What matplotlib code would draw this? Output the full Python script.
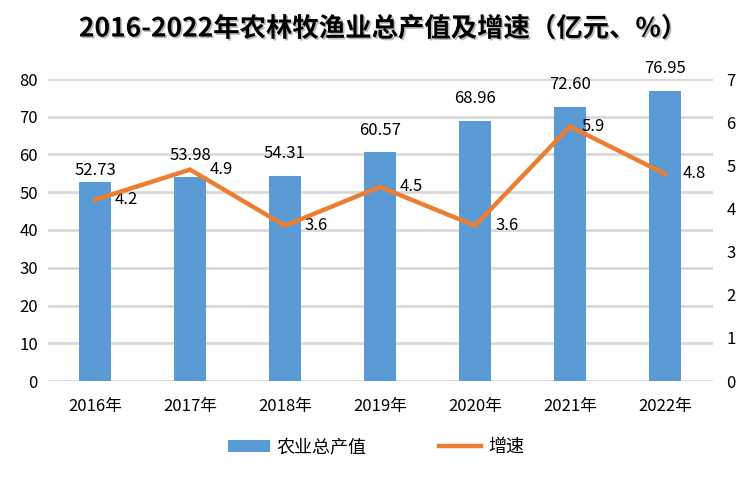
import matplotlib
matplotlib.use("Agg")
import matplotlib.pyplot as plt
import matplotlib.patheffects as pe
import numpy as np

plt.rcParams['font.family'] = ['Noto Sans CJK SC', 'DejaVu Sans']

years = ['2016年', '2017年', '2018年', '2019年', '2020年', '2021年', '2022年']
output_value = [52.73, 53.98, 54.31, 60.57, 68.96, 72.60, 76.95]
growth = [4.2, 4.9, 3.6, 4.5, 3.6, 5.9, 4.8]
left_ticks = [0, 10, 20, 30, 40, 50, 60, 70, 80]
right_ticks = [0, 1, 2, 3, 4, 5, 6, 7]

# label placement (styling, in points)
bar_label_dy = [8, 16, 16, 16, 16, 16, 16]
line_label_dx = [14, 14, 14, 14, 15, 8.5, 13]

bar_color = '#5B9BD5'
line_color = '#ED7D31'

fig = plt.figure(figsize=(7.51, 4.79), dpi=100)
ax = fig.add_axes([47.5/751, 1-381/479, 665/751, 302/479])
x = np.arange(len(years))

ax.bar(x, output_value, width=0.33, color=bar_color, zorder=3, label='农业总产值')
ax.set_ylim(0, 80)
ax.set_xlim(-0.5, len(years)-0.5)
ax.set_yticks(left_ticks)
ax.set_xticks(x)
ax.set_xticklabels(years)
ax.grid(axis='y', color='#D9D9D9', linewidth=2, zorder=0)
ax.set_axisbelow(True)
for s in ax.spines.values():
    s.set_visible(False)
ax.tick_params(axis='both', length=0, labelsize=12, colors='#000000')
ax.tick_params(axis='x', pad=12)
ax.tick_params(axis='y', pad=7)

for xi, v, dy in zip(x, output_value, bar_label_dy):
    ax.annotate(f'{v:.2f}', (xi, v), xytext=(0, dy), textcoords='offset points',
                ha='center', va='center', fontsize=12, color='#000000')

ax2 = ax.twinx()
ax2.plot(x, growth, color=line_color, linewidth=3.2, zorder=4, label='增速',
         solid_joinstyle='miter')
ax2.set_ylim(0, 7)
ax2.set_yticks(right_ticks)
for s in ax2.spines.values():
    s.set_visible(False)
ax2.tick_params(axis='y', length=0, labelsize=12, pad=10)
for xi, v, dx in zip(x, growth, line_label_dx):
    ax2.annotate(f'{v:.1f}', (xi, v), xytext=(dx, 0), textcoords='offset points',
                 ha='left', va='center', fontsize=12, color='#000000')

fig.text(0.51, 1-29/479, '2016-2022年农林牧渔业总产值及增速（亿元、%）',
         ha='center', va='center', fontsize=19, fontweight='bold', color='#000000',
         path_effects=[pe.withSimplePatchShadow(offset=(1.2, -1.2),
                                                shadow_rgbFace='#909090', alpha=0.6)])

h1, l1 = ax.get_legend_handles_labels()
h2, l2 = ax2.get_legend_handles_labels()
fig.legend(h1 + h2, l1 + l2, loc='center', bbox_to_anchor=(376/751, 1-447/479),
           ncol=2, frameon=False, fontsize=13, handlelength=2.33, handletextpad=0.39,
           handleheight=0.65, columnspacing=4.0)

fig.savefig('out.png', dpi=100)
